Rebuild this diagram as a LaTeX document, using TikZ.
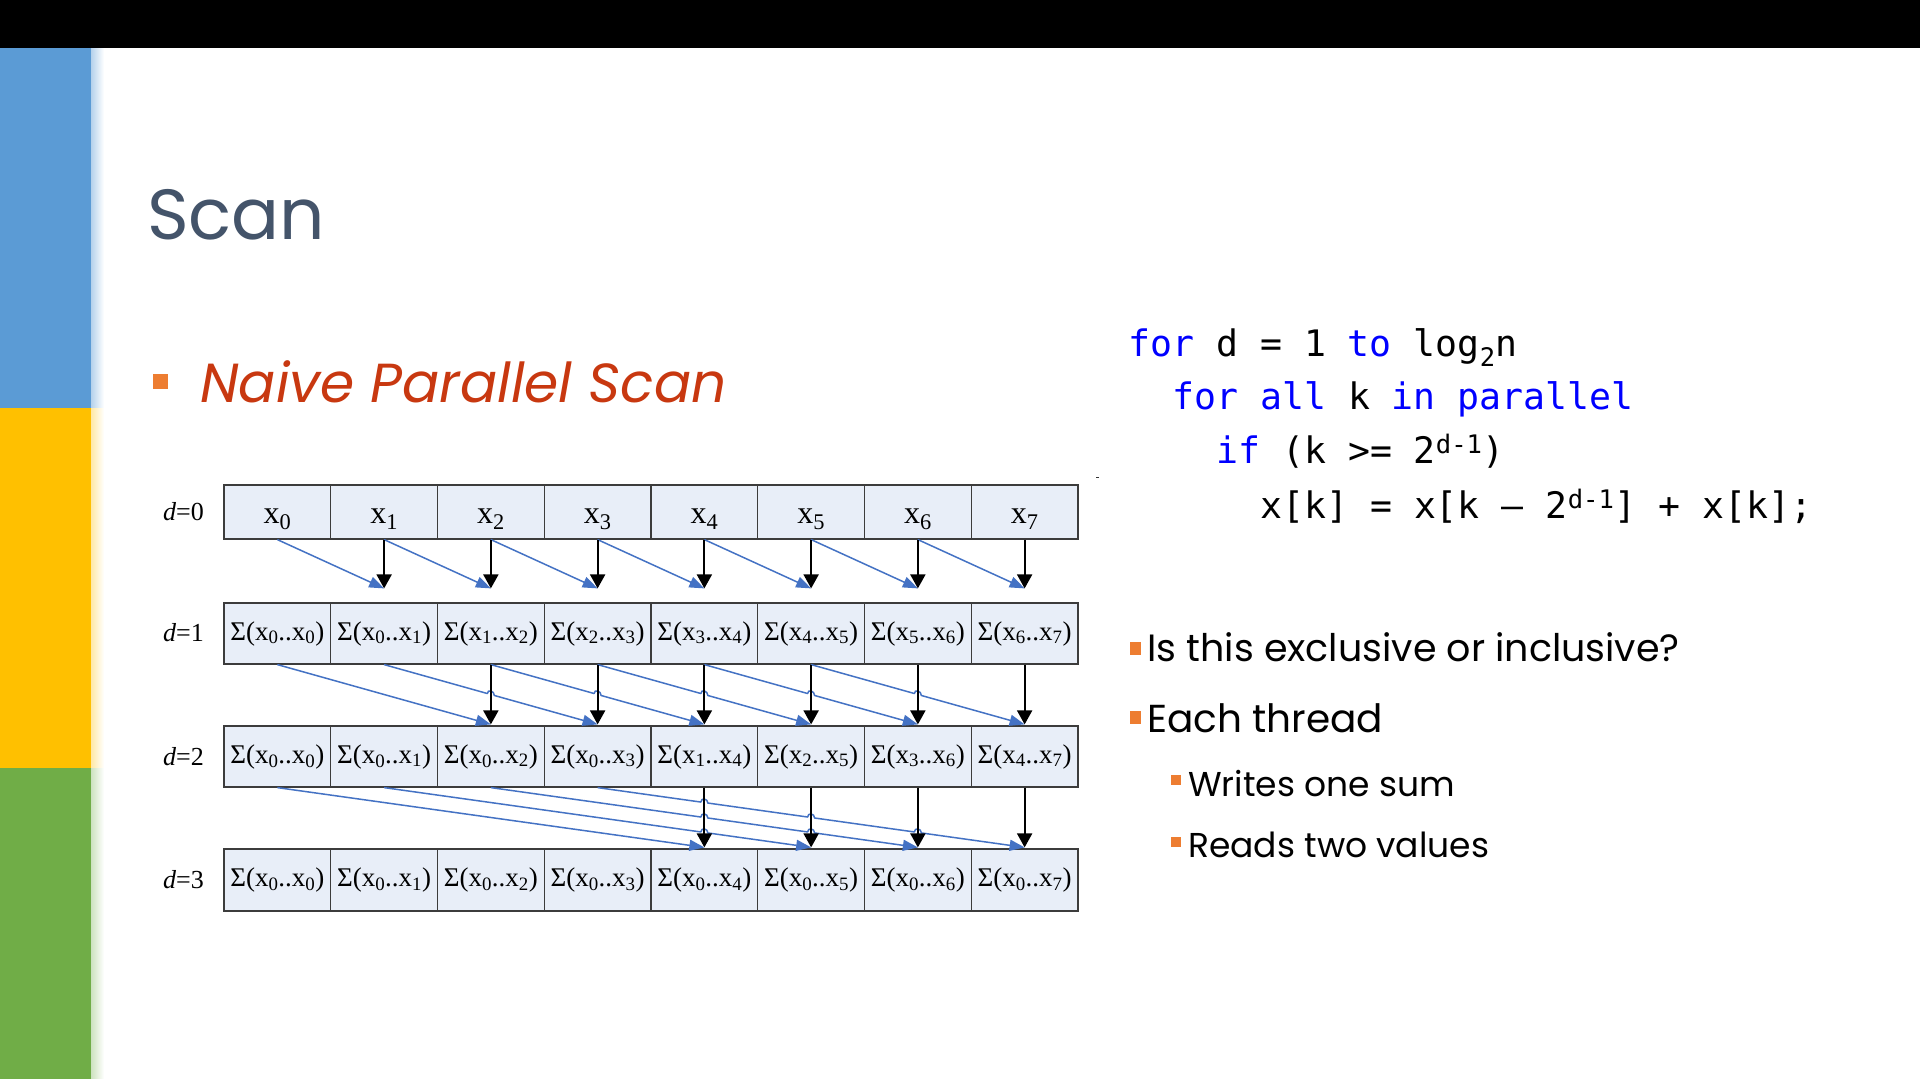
\documentclass[tikz,border=0pt]{standalone}
\usepackage{fontspec}
\setmainfont{Poppins}
\newfontfamily\serifface{Liberation Serif}
\newfontfamily\codeface{DejaVu Sans Mono}
\usetikzlibrary{arrows.meta,calc}

\definecolor{barblue}{HTML}{5B9BD5}
\definecolor{baryellow}{HTML}{FFC000}
\definecolor{bargreen}{HTML}{70AD47}
\definecolor{titlegray}{HTML}{44546A}
\definecolor{accentred}{RGB}{200,56,16}
\definecolor{bulletorange}{HTML}{ED7D31}
\definecolor{cellfill}{HTML}{E8EEF8}
\definecolor{cellline}{HTML}{3C3C3C}
\definecolor{flowblue}{HTML}{4472C4}
\definecolor{kwblue}{HTML}{0000FF}

% label of a partial-sum cell
\newcommand\sumlab[2]{Σ(x\textsubscript{#1}..x\textsubscript{#2})}
\newcommand\kw[1]{\textcolor{kwblue}{#1}}

\begin{document}
\begin{tikzpicture}[x=1pt,y=-1pt,
  cell/.style={draw=cellline, fill=cellfill, line width=1.2pt,
    minimum width=106.75pt, inner sep=0pt,
    font=\serifface\fontsize{27}{30}\selectfont},
  rowlabel/.style={anchor=east, inner sep=0pt,
    font=\serifface\fontsize{26}{30}\selectfont},
  blk/.style={line width=2pt, black, -{Triangle[length=14pt,width=15pt]}},
  blu/.style={line width=1.5pt, flowblue, line join=round,
    -{Triangle[length=15pt,width=11pt]}},
  code/.style={anchor=base west, inner sep=0pt,
    font=\codeface\fontsize{36.5}{40}\selectfont},
  bulletsq/.style={fill=bulletorange, inner sep=0pt},
  bodytext/.style={anchor=base west, inner sep=0pt},
]
\useasboundingbox (0,0) rectangle (1920,1079);

% slide background, top bar and coloured side strip
\fill[white] (0,0) rectangle (1920,1079);
\fill[black] (0,0) rectangle (1920,48);
\fill[barblue]   (0,48)  rectangle (91,408);
\fill[baryellow] (0,408) rectangle (91,768);
\fill[bargreen]  (0,768) rectangle (91,1079);
\shade[left color=barblue!45!white, right color=white]     (91,48)  rectangle (104,408);
\shade[left color=baryellow!35!white, right color=white]   (91,408) rectangle (104,768);
\shade[left color=bargreen!35!white, right color=white]    (91,768) rectangle (104,1079);

% title and subtitle
\node[bodytext, text=titlegray, font=\fontsize{71}{76}\selectfont] (title) at (147,239) {Scan};
\node[bulletsq, minimum width=15pt, minimum height=15pt] (nbul) at (160,381) {};
\node[bodytext, text=accentred, font=\itshape\fontsize{55}{60}\selectfont] (naive) at (200,402) {Naive Parallel Scan};

% the four rows of cells
\foreach \k in {0,...,7} {
  \pgfmathsetmacro\cx{224+(\k+0.5)*106.75}
  \pgfmathtruncatemacro\ia{max(\k-1,0)}
  \pgfmathtruncatemacro\ib{max(\k-3,0)}
  \node[cell, minimum height=54pt, font=\serifface\fontsize{32}{34}\selectfont] (c0-\k) at (\cx,512) {\smash{\raisebox{-11pt}{x\textsubscript{\k}}}};
  \node[cell, minimum height=61pt] (c1-\k) at (\cx,633.5) {\sumlab{\ia}{\k}};
  \node[cell, minimum height=61pt] (c2-\k) at (\cx,756.5) {\sumlab{\ib}{\k}};
  \node[cell, minimum height=62pt] (c3-\k) at (\cx,880) {\sumlab{0}{\k}};
  \coordinate (tip1-\k) at ($(c1-\k.north)+(0,-14)$);
  \coordinate (tip2-\k) at ($(c2-\k.north)+(0,-1)$);
  \coordinate (tip3-\k) at ($(c3-\k.north)+(0,-1)$);
}

% row labels
\node[rowlabel] (d0) at (204,512)   {\textit{d}=0};
\node[rowlabel] (d1) at (204,632.5) {\textit{d}=1};
\node[rowlabel] (d2) at (204,756.5) {\textit{d}=2};
\node[rowlabel] (d3) at (204,880)   {\textit{d}=3};

% d=0 -> d=1 : offset 1
\foreach \k in {1,...,7} {
  \pgfmathtruncatemacro\src{\k-1}
  \draw[blu] (c0-\src.south) -- (tip1-\k);
}
% d=1 -> d=2 : offset 2, one hop over the vertical in between
\draw[blu] (c1-0.south) -- (tip2-2);
\foreach \k in {3,...,7} {
  \pgfmathtruncatemacro\src{\k-2}
  \draw[blu] (c1-\src.south)
    -- ($(c1-\src.south)!{0.5-0.0164}!(tip2-\k)$)
    .. controls +(0,-4.7) and +(0,-4.7) ..
    ($(c1-\src.south)!{0.5+0.0164}!(tip2-\k)$)
    -- (tip2-\k);
}
% d=2 -> d=3 : offset 4, hops over every vertical crossed
\draw[blu] (c2-0.south) -- (tip3-4);
\foreach \k in {5,6,7} {
  \pgfmathtruncatemacro\src{\k-4}
  \pgfmathtruncatemacro\last{\k-1}
  \draw[blu] (c2-\src.south)
    \foreach \j in {4,...,\last} {
      -- ($(c2-\src.south)!{(\j-\src)/4-0.0082}!(tip3-\k)$)
      .. controls +(0,-4.7) and +(0,-4.7) ..
      ($(c2-\src.south)!{(\j-\src)/4+0.0082}!(tip3-\k)$)
    }
    -- (tip3-\k);
}

% vertical (own value) arrows
\foreach \k in {1,...,7} \draw[blk] (c0-\k.south) -- (tip1-\k);
\foreach \k in {2,...,7} \draw[blk] (c1-\k.south) -- (tip2-\k);
\foreach \k in {4,...,7} \draw[blk] (c2-\k.south) -- (tip3-\k);

% stray mark
\fill[black!80] (1096,476.5) rectangle (1099,478);

% pseudocode
\node[code] (code1) at (1128,356) {\kw{for} d = 1 \kw{to} log\textsubscript{2}n};
\node[code] (code2) at (1172,409) {\kw{for} \kw{all} k \kw{in} \kw{parallel}};
\node[code] (code3) at (1216,463) {\kw{if} (k >= 2\textsuperscript{d-1})};
\node[code] (code4) at (1260,518) {x[k] = x[k – 2\textsuperscript{d-1}] + x[k];};

% bullet list
\node[bulletsq, minimum width=11pt, minimum height=13pt] (b1) at (1135,648.5) {};
\node[bodytext, font=\fontsize{38}{42}\selectfont] (t1) at (1147,661) {Is this exclusive or inclusive?};
\node[bulletsq, minimum width=11pt, minimum height=13pt] (b2) at (1135,717) {};
\node[bodytext, font=\fontsize{39}{42}\selectfont] (t2) at (1147,732) {Each thread};
\node[bulletsq, minimum width=10pt, minimum height=10pt] (b3) at (1176,780) {};
\node[bodytext, font=\fontsize{34.5}{38}\selectfont] (t3) at (1188,796) {Writes one sum};
\node[bulletsq, minimum width=10pt, minimum height=10pt] (b4) at (1176,841.5) {};
\node[bodytext, font=\fontsize{34.5}{38}\selectfont] (t4) at (1188,857) {Reads two values};
\end{tikzpicture}
\end{document}
